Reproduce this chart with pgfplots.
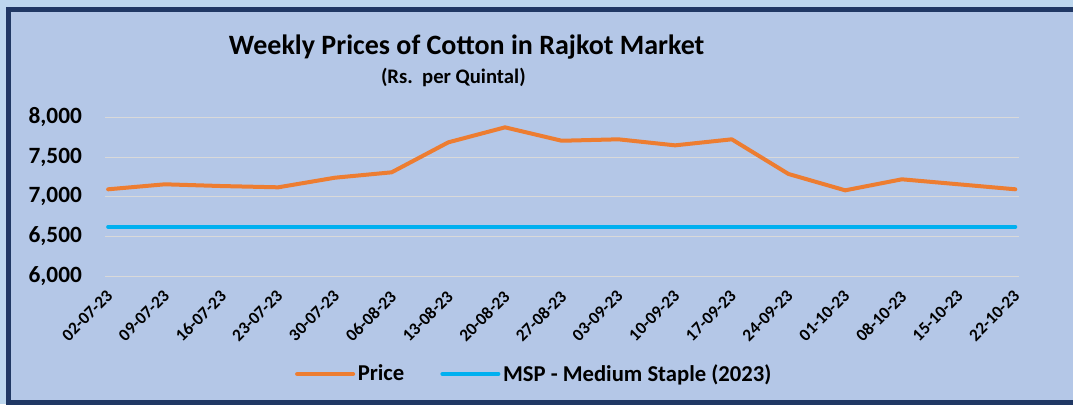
\documentclass[border=0pt]{standalone}
\usepackage{fontspec}
\setmainfont{Carlito}
\usepackage{pgfplots}
\pgfplotsset{compat=1.18}
\definecolor{outerbg}{RGB}{189,215,238}
\definecolor{innerbg}{RGB}{180,199,231}
\definecolor{navy}{RGB}{32,56,100}
\definecolor{gridc}{RGB}{217,217,217}
\definecolor{priceorange}{RGB}{237,125,49}
\definecolor{mspblue}{RGB}{0,176,240}

\begin{document}
\begin{tikzpicture}
% page = 1073 x 404 px at 0.75pt per px
\useasboundingbox (0,0) rectangle (804.75pt,-303pt);
\fill[outerbg] (0,0) rectangle (804.75pt,-303pt);
\fill[innerbg] (6.3pt,-7.1pt) rectangle (804.75pt,-302pt);
% chart frame, open on the right (cropped in the original)
\draw[navy, line width=3.4pt] (806pt,-7.1pt) -- (6.3pt,-7.1pt) -- (6.3pt,-302pt) -- (806pt,-302pt);

\node[font=\bfseries\fontsize{21}{24}\selectfont] at (350pt,-35pt) {Weekly Prices of Cotton in Rajkot Market};
\node[font=\bfseries\fontsize{15.5}{17}\selectfont] at (340pt,-58pt) {(Rs.\ \ per Quintal)};

\begin{axis}[
  at={(79pt,-207pt)}, anchor=south west,
  scale only axis, width=685pt, height=119pt,
  xmin=-0.05, xmax=16.06,
  ymin=6000, ymax=8000,
  ytick={6000,6500,7000,7500,8000},
  xtick={0,...,16},
  xticklabels={02-07-23,09-07-23,16-07-23,23-07-23,30-07-23,06-08-23,13-08-23,20-08-23,27-08-23,03-09-23,10-09-23,17-09-23,24-09-23,01-10-23,08-10-23,15-10-23,22-10-23},
  axis line style={draw=none},
  tick style={draw=none},
  ymajorgrids,
  grid style={gridc, line width=0.75pt},
  /pgf/number format/.cd, 1000 sep={,}, assume math mode=true, /pgfplots/.cd,
  yticklabel style={font=\bfseries\fontsize{17.5}{19}\selectfont, anchor=east, xshift=-14pt},
  xticklabel style={font=\bfseries\fontsize{13}{15}\selectfont, xshift=-2pt, yshift=-5pt, rotate=45, anchor=north east},
  legend style={at={(0.47,-0.6175)}, anchor=center, draw=none, fill=none,
    font=\bfseries\fontsize{17}{19}\selectfont, legend columns=2,
    /tikz/every even column/.append style={column sep=25pt},
    legend cell align=left},
  legend image code/.code={\draw[#1] (0pt,0pt) -- (42pt,0pt);},
]
\addplot[priceorange, line width=3pt, line cap=round, line join=round]
  coordinates {(0,7093)(1,7156)(2,7134)(3,7118)(4,7239)(5,7307)(6,7685)(7,7874)(8,7705)(9,7723)(10,7647)(11,7723)(12,7286)(13,7080)(14,7219)(15,7156)(16,7093)};
\addlegendentry{Price}
\addplot[mspblue, line width=3pt, line cap=round]
  coordinates {(0,6620)(1,6620)(2,6620)(3,6620)(4,6620)(5,6620)(6,6620)(7,6620)(8,6620)(9,6620)(10,6620)(11,6620)(12,6620)(13,6620)(14,6620)(15,6620)(16,6620)};
\addlegendentry{MSP - Medium Staple (2023)}
\end{axis}
\end{tikzpicture}
\end{document}
